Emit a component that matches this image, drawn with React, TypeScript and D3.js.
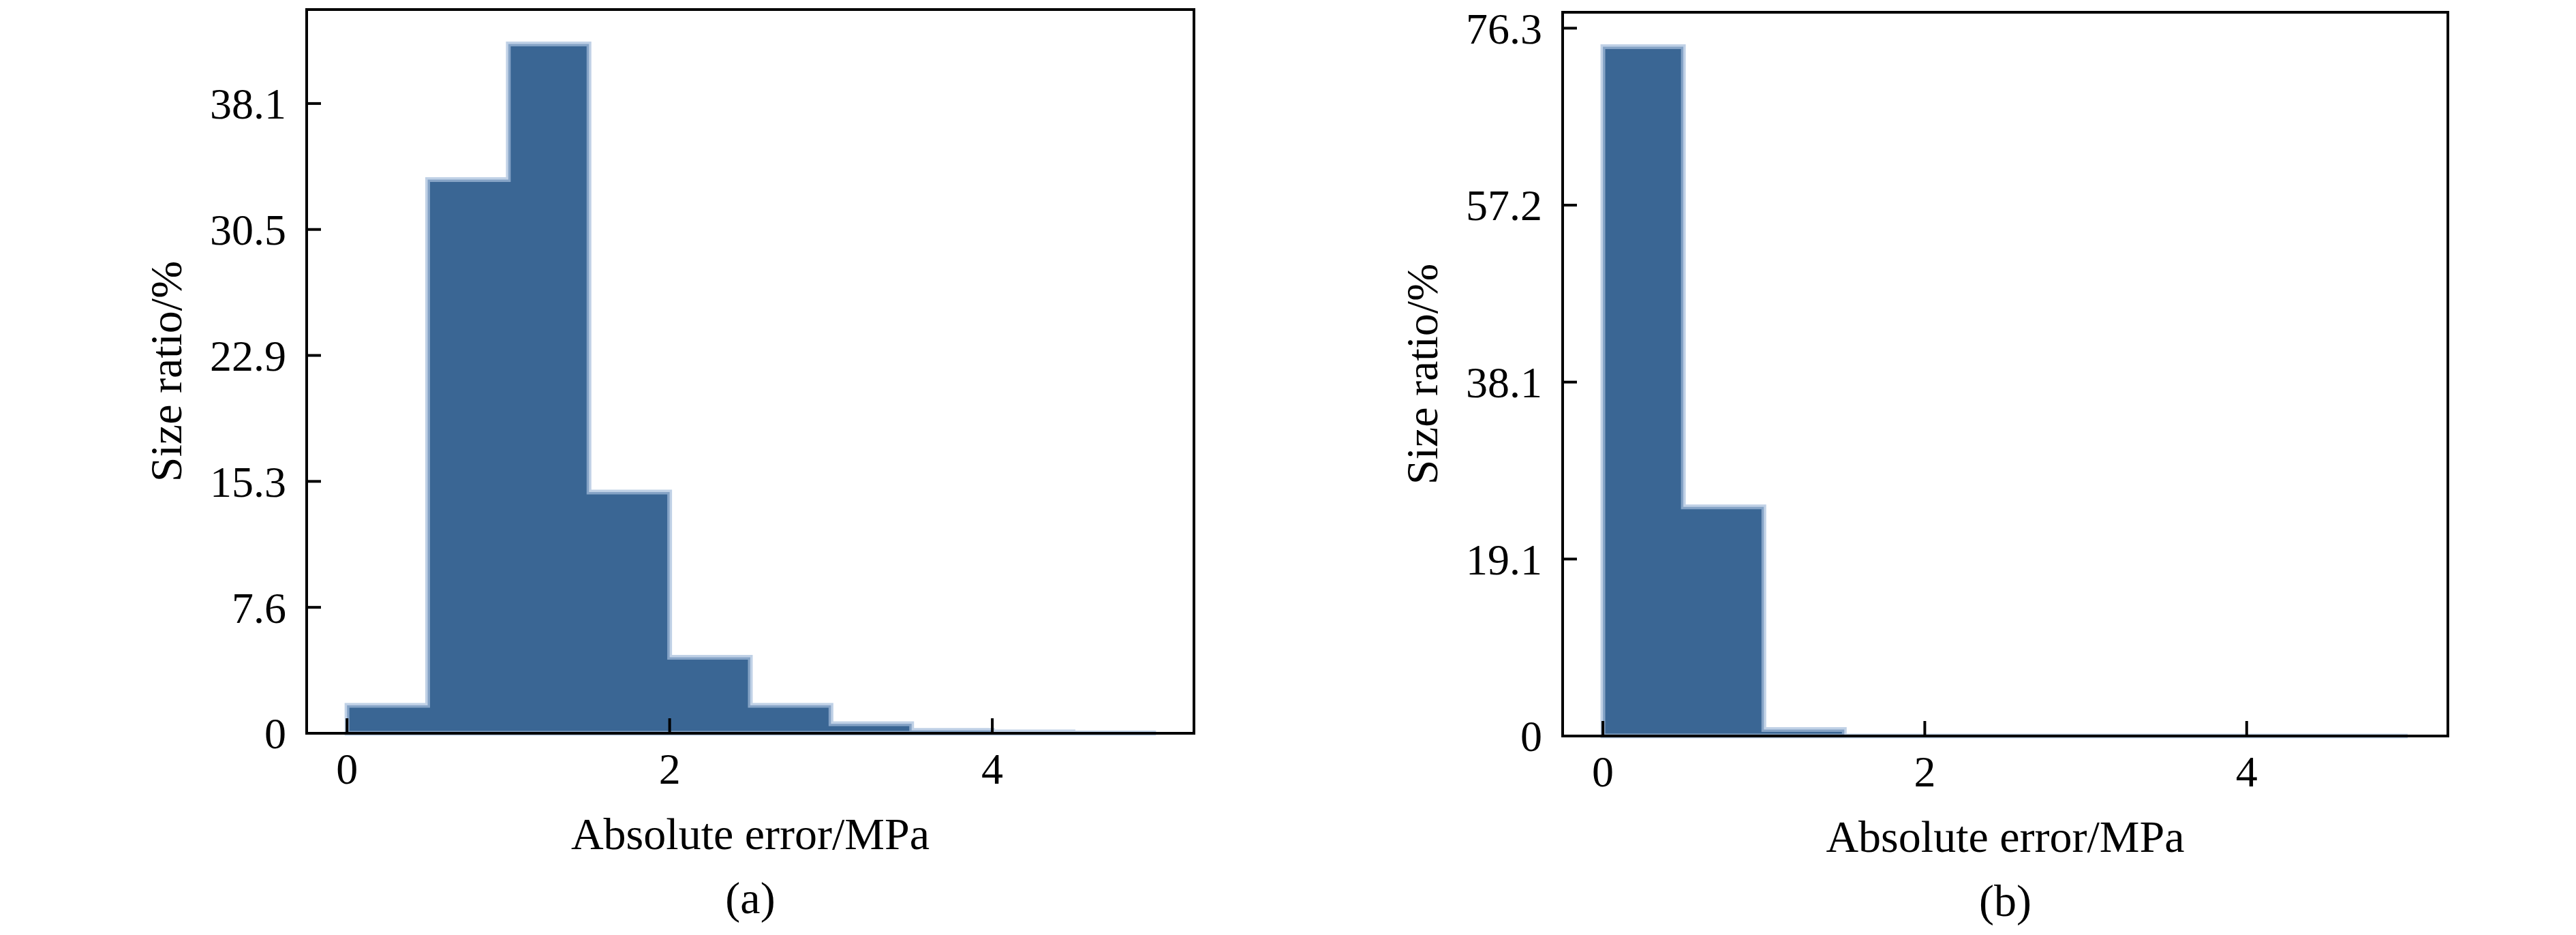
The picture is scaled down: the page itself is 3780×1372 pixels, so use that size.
import React from 'react';
import * as d3 from 'd3';

// histogram bins (MPa), width 0.5
const binStarts = [0, 0.5, 1, 1.5, 2, 2.5, 3, 3.5, 4, 4.5];
const binEnd = 5;

// size ratio per bin, %
const ratioA = [1.69, 33.5, 41.7, 14.6, 4.6, 1.69, 0.58, 0.18, 0.08, 0.02];
const ratioB = [74.3, 24.7, 0.7, 0, 0, 0, 0, 0, 0, 0];

const xTicks = [0, 2, 4];
const yTicksA = [0, 7.62, 15.24, 22.86, 30.48, 38.1];
const yLabelsA = ['0', '7.6', '15.3', '22.9', '30.5', '38.1'];
const yTicksB = [0, 19.075, 38.15, 57.225, 76.3];
const yLabelsB = ['0', '19.1', '38.1', '57.2', '76.3'];

const FONT = '"Liberation Serif", "Times New Roman", serif';
const BAR = '#3a6694';
const EDGE = 'rgba(165,190,220,0.7)';

interface PanelProps {
    values: number[];
    yTicks: number[];
    yLabels: string[];
    left: number;
    right: number;
    top: number;
    bottom: number;
    tag: string;
}

const Panel: React.FC<PanelProps> = ({ values, yTicks, yLabels, left, right, top, bottom, tag }) => {
    const x = d3.scaleLinear().domain([-0.25, 5.25]).range([left, right]);
    const y = d3.scaleLinear().domain([0, (d3.max(values) as number) * 1.05]).range([bottom, top]);
    const cx = (left + right) / 2;
    const cy = (top + bottom) / 2;

    // stepfilled outline, like matplotlib hist(histtype='stepfilled')
    const pts: [number, number][] = binStarts.map((b, i) => [b, values[i]]);
    pts.push([binEnd, values[values.length - 1]]);
    const area = d3.area<[number, number]>()
        .x(d => x(d[0]))
        .y0(y(0))
        .y1(d => y(d[1]))
        .curve(d3.curveStepAfter);

    return (
        <g>
            <path d={area(pts) as string} fill={BAR} stroke={EDGE} strokeWidth={7} />
            {/* frame */}
            <rect x={left} y={top} width={right - left} height={bottom - top} fill="none" stroke="#000" strokeWidth={4} />
            {/* inward ticks */}
            {xTicks.map(t => (
                <g key={'x' + t}>
                    <line x1={x(t)} x2={x(t)} y1={bottom} y2={bottom - 22} stroke="#000" strokeWidth={4} />
                    <text x={x(t)} y={bottom + 74} textAnchor="middle" fontSize={64} fontFamily={FONT}>{t}</text>
                </g>
            ))}
            {yTicks.map((t, i) => (
                <g key={'y' + i}>
                    <line x1={left} x2={left + 21} y1={y(t)} y2={y(t)} stroke="#000" strokeWidth={4} />
                    <text x={left - 30} y={y(t)} dy="0.35em" textAnchor="end" fontSize={64} fontFamily={FONT}>{yLabels[i]}</text>
                </g>
            ))}
            <text x={cx} y={bottom + 170} textAnchor="middle" fontSize={66} fontFamily={FONT}>Absolute error/MPa</text>
            <text transform={`translate(${left - 184},${cy}) rotate(-90)`} textAnchor="middle" fontSize={66} fontFamily={FONT}>Size ratio/%</text>
            <text x={cx} y={bottom + 264} textAnchor="middle" fontSize={66} fontFamily={FONT}>{tag}</text>
        </g>
    );
};

const App: React.FC = () => (
    <svg
        width={3780}
        height={1372}
        style={{ position: 'absolute', left: 0, top: 0, background: '#fff' }}
    >
        <rect width={3780} height={1372} fill="#fff" />
        <Panel values={ratioA} yTicks={yTicksA} yLabels={yLabelsA} left={450} right={1752} top={14} bottom={1076} tag="(a)" />
        <Panel values={ratioB} yTicks={yTicksB} yLabels={yLabelsB} left={2293} right={3592} top={18} bottom={1080} tag="(b)" />
    </svg>
);

export default App;
